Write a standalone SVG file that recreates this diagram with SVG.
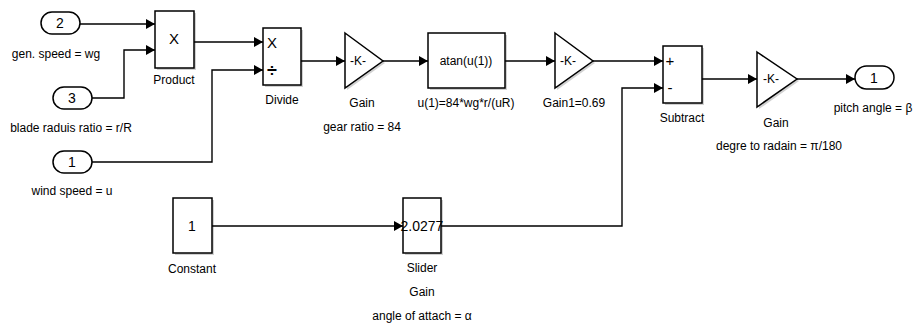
<svg xmlns="http://www.w3.org/2000/svg" width="921" height="326" viewBox="0 0 921 326">
<style>
.blk{fill:#fff;stroke:#000;stroke-width:1.5}
.sh{fill:#9a9a9a;opacity:0.45}
.w{fill:none;stroke:#000;stroke-width:1.4}
text{font-family:"Liberation Sans",Arial,sans-serif;font-size:12px;fill:#000;text-anchor:middle}
.in{font-size:14px}
.big{font-size:15px}
.div{font-size:18px;font-weight:bold}
</style>
<defs>
<marker id="ar" markerUnits="userSpaceOnUse" markerWidth="9" markerHeight="10" refX="9" refY="5" orient="auto">
<path d="M0,0 L9,5 L0,10 z" fill="#000"/>
</marker>
</defs>
<rect width="921" height="326" fill="#fff"/>

<g id="inport2">
<rect class="blk" x="41" y="12" width="39" height="22" rx="11"/>
<text class="in" x="60" y="28">2</text>
<text x="56" y="58">gen. speed = wg</text>
</g>
<g id="inport3">
<rect class="blk" x="53" y="87" width="39" height="22" rx="11"/>
<text class="in" x="72" y="103">3</text>
<text x="71" y="132">blade raduis ratio = r/R</text>
</g>
<g id="inport1">
<rect class="blk" x="53" y="151" width="39" height="22" rx="11"/>
<text class="in" x="72" y="167">1</text>
<text x="72" y="195">wind speed = u</text>
</g>
<g id="product">
<rect class="sh" x="157" y="13" width="39" height="57"/>
<rect class="blk" x="155" y="11" width="39" height="57"/>
<text class="big" x="174" y="44">X</text>
<text x="174" y="84">Product</text>
</g>
<g id="divide">
<rect class="sh" x="265" y="30" width="38" height="57"/>
<rect class="blk" x="263" y="28" width="38" height="57"/>
<text class="big" x="272" y="48">X</text>
<text class="div" x="272" y="77">÷</text>
<text x="282" y="104">Divide</text>
</g>
<g id="gain">
<path class="sh" d="M347,35 L385,63 L347,90 z"/>
<path class="blk" d="M345,33 L383,61 L345,88 z"/>
<text x="358" y="65">-K-</text>
<text x="362" y="107">Gain</text>
<text x="362" y="131">gear ratio = 84</text>
</g>
<g id="atan">
<rect class="sh" x="430" y="35" width="77" height="55"/>
<rect class="blk" x="428" y="33" width="77" height="55"/>
<text x="466" y="65">atan(u(1))</text>
<text x="466" y="107">u(1)=84*wg*r/(uR)</text>
</g>
<g id="gain1">
<path class="sh" d="M557,35 L595,63 L557,90 z"/>
<path class="blk" d="M555,33 L593,61 L555,88 z"/>
<text x="568" y="65">-K-</text>
<text x="574" y="107">Gain1=0.69</text>
</g>
<g id="subtract">
<rect class="sh" x="665" y="48" width="39" height="57"/>
<rect class="blk" x="663" y="46" width="39" height="57"/>
<text class="big" x="670" y="66">+</text>
<text class="big" x="670" y="93">-</text>
<text x="682" y="122">Subtract</text>
</g>
<g id="gain2">
<path class="sh" d="M759,54 L799,81 L759,109 z"/>
<path class="blk" d="M757,52 L797,79 L757,107 z"/>
<text x="771" y="83">-K-</text>
<text x="776" y="127">Gain</text>
<text x="779" y="150">degre to radain = π/180</text>
</g>
<g id="outport1">
<rect class="blk" x="855" y="66" width="39" height="23" rx="11.5"/>
<text class="in" x="874" y="83">1</text>
<text x="873" y="112">pitch angle = β</text>
</g>
<g id="constant">
<rect class="sh" x="175" y="200" width="39" height="55"/>
<rect class="blk" x="173" y="198" width="39" height="55"/>
<text class="in" x="192" y="231">1</text>
<text x="192" y="273">Constant</text>
</g>
<g id="slider">
<rect class="sh" x="405" y="200" width="38" height="55"/>
<rect class="blk" x="403" y="198" width="38" height="55"/>
<text class="in" x="422" y="231">2.0277</text>
<text x="422" y="272">Slider</text>
<text x="422" y="296">Gain</text>
<text x="422" y="320">angle of attach =  α</text>
</g>

<g id="connectors">
<path class="w" marker-end="url(#ar)" d="M80,24 L155,24"/>
<path class="w" marker-end="url(#ar)" d="M92,98 L124,98 L124,50 L155,50"/>
<path class="w" marker-end="url(#ar)" d="M194,42 L263,42"/>
<path class="w" marker-end="url(#ar)" d="M92,162 L212,162 L212,70 L263,70"/>
<path class="w" marker-end="url(#ar)" d="M301,61 L345,61"/>
<path class="w" marker-end="url(#ar)" d="M383,61 L428,61"/>
<path class="w" marker-end="url(#ar)" d="M505,61 L555,61"/>
<path class="w" marker-end="url(#ar)" d="M593,61 L663,61"/>
<path class="w" marker-end="url(#ar)" d="M212,226 L403,226"/>
<path class="w" marker-end="url(#ar)" d="M441,226 L622,226 L622,88 L663,88"/>
<path class="w" marker-end="url(#ar)" d="M702,79 L757,79"/>
<path class="w" marker-end="url(#ar)" d="M797,79 L855,79"/>
</g>
</svg>
